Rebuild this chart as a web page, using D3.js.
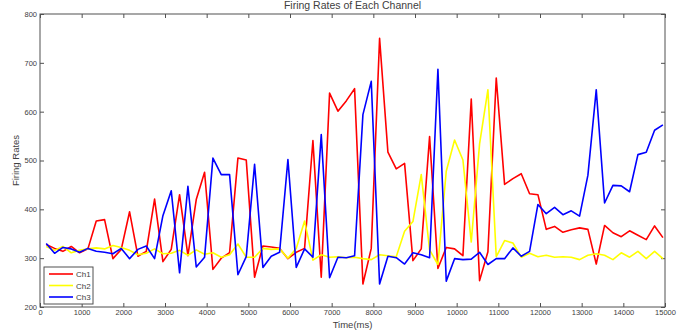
<!DOCTYPE html>
<html>
<head>
<meta charset="utf-8">
<script src="https://cdnjs.cloudflare.com/ajax/libs/d3/7.8.5/d3.min.js"></script>
<style>
  body { margin: 0; background: #fff; }
  text { font-family: "Liberation Sans", Arial, sans-serif; fill: #404040; }
</style>
</head>
<body>
<svg id="chart" width="692" height="334"></svg>
<script>
// sample times (ms) and firing rates per channel
const times = d3.range(75).map(i => 150 + 200 * i);
const seriesNames = ['Ch1', 'Ch2', 'Ch3'];
const seriesColors = ['#ff0000', '#ffff00', '#0000ff'];
const xTicks = [0, 1000, 2000, 3000, 4000, 5000, 6000, 7000, 8000, 9000, 10000, 11000, 12000, 13000, 14000, 15000];
const yTicks = [200, 300, 400, 500, 600, 700, 800];

const ch1 = [328, 320, 314, 324, 311, 319, 376, 379, 299, 318,
  395, 304, 314, 421, 293, 318, 430, 305, 420, 476,
  277, 300, 311, 505, 501, 261, 325, 323, 320, 299,
  312, 320, 541, 261, 638, 601, 622, 647, 247, 320,
  750, 517, 483, 494, 295, 319, 549, 279, 322, 319,
  305, 626, 254, 313, 669, 451, 463, 473, 432, 430,
  359, 365, 353, 358, 362, 359, 288, 367, 352, 344,
  356, 347, 338, 366, 342];
const ch2 = [324, 316, 324, 311, 316, 319, 321, 319, 326, 322,
  316, 307, 310, 319, 309, 310, 316, 306, 317, 308,
  311, 302, 307, 329, 302, 302, 320, 318, 319, 300,
  320, 376, 296, 307, 302, 303, 301, 302, 299, 297,
  307, 305, 303, 355, 375, 471, 317, 287, 478, 542,
  501, 333, 534, 645, 303, 336, 331, 302, 310, 303,
  306, 302, 303, 302, 297, 306, 309, 306, 297, 311,
  302, 314, 299, 314, 299];
const ch3 = [330, 310, 322, 319, 312, 320, 314, 312, 309, 320,
  299, 318, 325, 299, 387, 438, 270, 447, 282, 302,
  505, 471, 471, 266, 303, 492, 281, 304, 312, 502,
  281, 319, 302, 553, 260, 302, 301, 305, 594, 662,
  247, 304, 301, 288, 311, 307, 301, 687, 253, 299,
  297, 298, 312, 287, 299, 299, 321, 304, 314, 410,
  391, 404, 389, 397, 386, 470, 645, 413, 449, 448,
  436, 512, 517, 562, 573];

const margin = { top: 14, right: 27, bottom: 27, left: 40 };
const width = 692 - margin.left - margin.right;
const height = 334 - margin.top - margin.bottom;

const svg = d3.select('#chart');
const g = svg.append('g')
  .attr('transform', 'translate(' + margin.left + ',' + margin.top + ')');

const x = d3.scaleLinear().domain([0, 15000]).range([0, width]);
const y = d3.scaleLinear().domain([200, 800]).range([height, 0]);

const axisColor = '#505050';

// axes, matlab style: ticks inside, on all four sides
function styleAxis(sel) {
  sel.select('.domain').remove();
  sel.selectAll('.tick line').attr('stroke', axisColor);
  sel.selectAll('.tick text').style('font-size', '7.5px').attr('fill', '#404040');
}

g.append('g')
  .attr('transform', 'translate(0,' + height + ')')
  .call(d3.axisBottom(x).tickValues(xTicks).tickSize(-4).tickPadding(3).tickFormat(d3.format('d')))
  .call(styleAxis);
g.append('g')
  .call(d3.axisTop(x).tickValues(xTicks).tickSize(-4).tickFormat(''))
  .call(styleAxis);
g.append('g')
  .call(d3.axisLeft(y).tickValues(yTicks).tickSize(-4).tickPadding(3).tickFormat(d3.format('d')))
  .call(styleAxis);
g.append('g')
  .attr('transform', 'translate(' + width + ',0)')
  .call(d3.axisRight(y).tickValues(yTicks).tickSize(-4).tickFormat(''))
  .call(styleAxis);

g.append('rect')
  .attr('x', 0).attr('y', 0)
  .attr('width', width).attr('height', height)
  .attr('fill', 'none')
  .attr('stroke', axisColor)
  .attr('stroke-width', 1);

// lines
const allSeries = [ch1, ch2, ch3];
const line = d3.line()
  .x((d, i) => x(times[i]))
  .y(d => y(d));

allSeries.forEach((values, i) => {
  g.append('path')
    .datum(values)
    .attr('d', line)
    .style('fill', 'none')
    .style('stroke', seriesColors[i])
    .style('stroke-width', 1.6)
    .style('stroke-linejoin', 'round');
});

// title and labels
svg.append('text')
  .attr('x', margin.left + width / 2)
  .attr('y', 9)
  .attr('text-anchor', 'middle')
  .style('font-size', '10.5px')
  .text('Firing Rates of Each Channel');

svg.append('text')
  .attr('x', margin.left + width / 2)
  .attr('y', 328)
  .attr('text-anchor', 'middle')
  .style('font-size', '9.5px')
  .text('Time(ms)');

svg.append('text')
  .attr('transform', 'translate(19,' + (margin.top + height / 2) + ') rotate(-90)')
  .attr('text-anchor', 'middle')
  .style('font-size', '9.5px')
  .text('Firing Rates');

// legend
const legend = g.append('g')
  .attr('transform', 'translate(4,' + (height - 40) + ')');
legend.append('rect')
  .attr('width', 49).attr('height', 37)
  .attr('fill', '#fff')
  .attr('stroke', axisColor);
seriesNames.forEach((name, i) => {
  const ly = 7 + i * 11.5;
  legend.append('line')
    .attr('x1', 5).attr('x2', 29)
    .attr('y1', ly).attr('y2', ly)
    .style('stroke', seriesColors[i])
    .style('stroke-width', 1.6);
  legend.append('text')
    .attr('x', 32).attr('y', ly + 3)
    .style('font-size', '8px')
    .text(name);
});
</script>
</body>
</html>
